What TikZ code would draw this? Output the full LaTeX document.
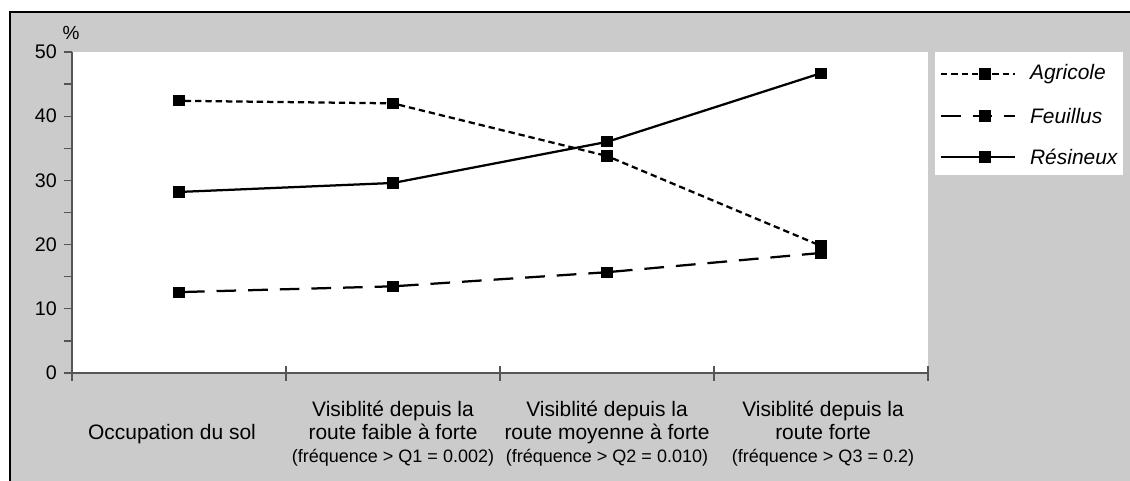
\documentclass[tikz,border=0pt]{standalone}
\usepackage{fontspec}
\setmainfont{Liberation Sans}
\usetikzlibrary{positioning}
\definecolor{panelgray}{RGB}{203,203,203}
\definecolor{axisgray}{RGB}{85,85,85}

\begin{document}
\begin{tikzpicture}[
        x=0.025cm, y=-0.025cm, % one unit = one pixel of the chart
        every node/.style={inner sep=0pt, font=\fontsize{14.9}{16.4}\selectfont},
        datamark/.style={rectangle, fill=black, minimum size=0.28cm},
        agri/.style={line width=1.6pt, dash pattern=on 4.5pt off 2.8pt},
        feui/.style={line width=1.6pt, dash pattern=on 14pt off 8.5pt},
        resi/.style={line width=1.6pt},
        axisline/.style={axisgray, line width=0.9pt},
        ticklabel/.style={anchor=east, font=\fontsize{14}{16}\selectfont},
        catlabel/.style={align=center},
        legtext/.style={anchor=west, font=\fontsize{14.9}{16.4}\selectfont\itshape}
      ]
      \clip (0,0) rectangle (1130,480);

      % Panel and plot area
      \fill[panelgray] (10,12) rectangle (1140,490);
      \draw[line width=1.6pt] (10,12) rectangle (1140,490);
      \fill[white] (72,52) rectangle (928,373);
      \fill[white] (935,52) rectangle (1123,175);

      % Axes
      \draw[axisline] (72,52) -- (72,381);
      \draw[axisline] (72,373) -- (928,373);
      \foreach \k in {1,...,4}
        \draw[axisline] ({72+214*\k},366) -- ({72+214*\k},381);
      \foreach \v in {0,5,...,50}
        \draw[axisline] (64,{373-6.42*\v}) -- (72,{373-6.42*\v});
      \foreach \v in {0,10,...,50}
        \node[ticklabel] (yl\v) at (57,{373-6.42*\v}) {\v};
      \node[font=\fontsize{13.5}{16}\selectfont] (unit) at (71,33) {\%};

      % Agricole
      \foreach \i/\v in {1/42.4,2/42.0,3/33.8,4/19.8}
        \node[datamark] (a\i) at ({-35+214*\i},{373-6.42*\v}) {};
      \draw[agri] (a1) -- (a2) -- (a3) -- (a4);

      % Feuillus
      \foreach \i/\v in {1/12.6,2/13.5,3/15.7,4/18.7}
        \node[datamark] (f\i) at ({-35+214*\i},{373-6.42*\v}) {};
      \draw[feui] (f1) -- (f2) -- (f3) -- (f4);

      % Resineux
      \foreach \i/\v in {1/28.2,2/29.6,3/36.0,4/46.7}
        \node[datamark] (r\i) at ({-35+214*\i},{373-6.42*\v}) {};
      \draw[resi] (r1) -- (r2) -- (r3) -- (r4);

      % Legend
      \coordinate (la0) at (941,74);  \coordinate (la1) at (1015,74);
      \coordinate (lf0) at (941,116); \coordinate (lf1) at (1015,116);
      \coordinate (lr0) at (941,157); \coordinate (lr1) at (1015,157);
      \draw[agri] (la0) -- (la1);
      \draw[feui] (lf0) -- (lf1);
      \draw[resi] (lr0) -- (lr1);
      \node[datamark] (lma) at (985,74) {};
      \node[datamark] (lmf) at (985,116) {};
      \node[datamark] (lmr) at (985,157) {};
      \node[legtext, right=0.37cm of la1] (lta) {Agricole};
      \node[legtext, right=0.37cm of lf1] (ltf) {Feuillus};
      \node[legtext, right=0.37cm of lr1] (ltr) {Résineux};

      % Category labels
      \node[catlabel] (c1) at (172,434) {Occupation du sol};
      \node[catlabel] (c2) at (393,434) {Visiblité depuis la\\route faible à forte\\{\fontsize{12.8}{15}\selectfont (fréquence > Q1 = 0.002)}};
      \node[catlabel] (c3) at (607,434) {Visiblité depuis la\\route moyenne à forte\\{\fontsize{12.8}{15}\selectfont (fréquence > Q2 = 0.010)}};
      \node[catlabel] (c4) at (823,434) {Visiblité depuis la\\route forte\\{\fontsize{12.8}{15}\selectfont (fréquence > Q3 = 0.2)}};

    \end{tikzpicture}
\end{document}
